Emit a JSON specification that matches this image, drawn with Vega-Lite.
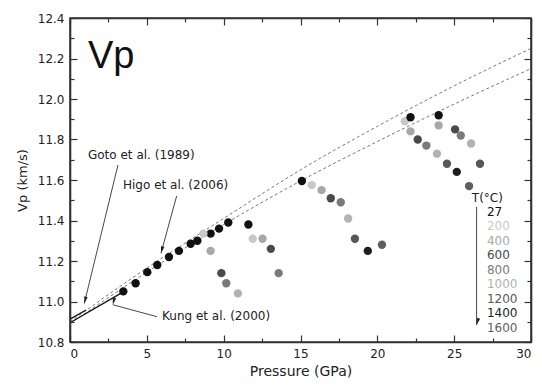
{
  "$schema": "https://vega.github.io/schema/vega-lite/v6.json",
  "width": 461,
  "height": 324,
  "autosize": "none",
  "padding": {"left": 70, "top": 18, "right": 11, "bottom": 47},
  "background": "white",
  "config": {
    "view": {"stroke": null},
    "font": "DejaVu Sans",
    "axis": {"domain": true, "zindex": 1, "domainColor": "#333333", "domainWidth": 1.6, "tickColor": "#333333", "tickWidth": 1.2, "labelColor": "#222", "labelFontSize": 12, "titleColor": "#222", "titleFontWeight": "normal", "grid": false}
  },
  "datasets": {
    "pts": [
      {"P": 3.47, "V": 11.05, "T": "27"},
      {"P": 4.27, "V": 11.09, "T": "27"},
      {"P": 5.03, "V": 11.145, "T": "27"},
      {"P": 5.68, "V": 11.18, "T": "27"},
      {"P": 6.44, "V": 11.22, "T": "27"},
      {"P": 7.09, "V": 11.25, "T": "27"},
      {"P": 7.85, "V": 11.285, "T": "27"},
      {"P": 8.29, "V": 11.3, "T": "27"},
      {"P": 9.15, "V": 11.335, "T": "27"},
      {"P": 9.7, "V": 11.36, "T": "27"},
      {"P": 10.3, "V": 11.39, "T": "27"},
      {"P": 8.68, "V": 11.335, "T": "200"},
      {"P": 9.15, "V": 11.25, "T": "400"},
      {"P": 9.85, "V": 11.14, "T": "600"},
      {"P": 10.17, "V": 11.09, "T": "800"},
      {"P": 10.93, "V": 11.04, "T": "1000"},
      {"P": 11.61, "V": 11.38, "T": "27"},
      {"P": 11.89, "V": 11.31, "T": "200"},
      {"P": 12.53, "V": 11.31, "T": "400"},
      {"P": 13.07, "V": 11.26, "T": "600"},
      {"P": 13.58, "V": 11.14, "T": "800"},
      {"P": 15.09, "V": 11.595, "T": "27"},
      {"P": 15.73, "V": 11.575, "T": "200"},
      {"P": 16.37, "V": 11.55, "T": "400"},
      {"P": 16.97, "V": 11.51, "T": "600"},
      {"P": 17.62, "V": 11.49, "T": "800"},
      {"P": 18.1, "V": 11.41, "T": "1000"},
      {"P": 18.54, "V": 11.31, "T": "1200"},
      {"P": 19.38, "V": 11.25, "T": "1400"},
      {"P": 20.3, "V": 11.28, "T": "1600"},
      {"P": 21.79, "V": 11.89, "T": "200"},
      {"P": 22.16, "V": 11.91, "T": "27"},
      {"P": 22.16, "V": 11.84, "T": "400"},
      {"P": 22.63, "V": 11.8, "T": "600"},
      {"P": 23.19, "V": 11.77, "T": "800"},
      {"P": 23.88, "V": 11.73, "T": "1000"},
      {"P": 24.53, "V": 11.68, "T": "1200"},
      {"P": 25.17, "V": 11.64, "T": "1400"},
      {"P": 25.97, "V": 11.57, "T": "1600"},
      {"P": 23.99, "V": 11.92, "T": "27"},
      {"P": 23.99, "V": 11.87, "T": "400"},
      {"P": 25.06, "V": 11.85, "T": "600"},
      {"P": 25.43, "V": 11.82, "T": "800"},
      {"P": 26.1, "V": 11.78, "T": "1000"},
      {"P": 26.68, "V": 11.68, "T": "1200"}
    ],
    "higo": [
      {"P": 0, "V": 10.9, "line": "upper"},
      {"P": 5, "V": 11.165, "line": "upper"},
      {"P": 10, "V": 11.41, "line": "upper"},
      {"P": 15, "V": 11.65, "line": "upper"},
      {"P": 20, "V": 11.865, "line": "upper"},
      {"P": 25, "V": 12.065, "line": "upper"},
      {"P": 30, "V": 12.25, "line": "upper"},
      {"P": 0, "V": 10.89, "line": "lower"},
      {"P": 5, "V": 11.145, "line": "lower"},
      {"P": 10, "V": 11.38, "line": "lower"},
      {"P": 15, "V": 11.595, "line": "lower"},
      {"P": 20, "V": 11.79, "line": "lower"},
      {"P": 25, "V": 11.975, "line": "lower"},
      {"P": 30, "V": 12.15, "line": "lower"}
    ],
    "solid": [
      {"P": 0, "V": 10.913, "src": "Goto"},
      {"P": 1.05, "V": 10.958, "src": "Goto"},
      {"P": 0, "V": 10.895, "src": "Kung"},
      {"P": 3.3, "V": 11.04, "src": "Kung"}
    ],
    "arrows": [
      {"name": "Goto", "P": 3.12, "V": 11.674, "P2": 0.93, "V2": 10.99},
      {"name": "Higo", "P": 6.94, "V": 11.521, "P2": 5.92, "V2": 11.238},
      {"name": "Kung", "P": 5.66, "V": 10.925, "P2": 2.78, "V2": 10.984},
      {"name": "T", "P": 26.46, "V": 11.468, "P2": 26.46, "V2": 10.884}
    ],
    "anno": [
      {"label": "Goto et al. (1989)", "P": 1.17, "V": 11.723},
      {"label": "Higo et al. (2006)", "P": 3.45, "V": 11.575},
      {"label": "Kung et al. (2000)", "P": 5.99, "V": 10.928},
      {"label": "T(°C)", "P": 26.15, "V": 11.511}
    ],
    "legend": [
      {"T": "27", "P": 27.13, "V": 11.443},
      {"T": "200", "P": 27.13, "V": 11.372},
      {"T": "400", "P": 27.13, "V": 11.298},
      {"T": "600", "P": 27.13, "V": 11.229},
      {"T": "800", "P": 27.13, "V": 11.157},
      {"T": "1000", "P": 27.13, "V": 11.088},
      {"T": "1200", "P": 27.13, "V": 11.014},
      {"T": "1400", "P": 27.13, "V": 10.945},
      {"T": "1600", "P": 27.13, "V": 10.871}
    ],
    "title": [
      {"label": "Vp", "P": 1.17, "V": 12.152}
    ],
    "frame": [
      {"P": 0, "P2": 30, "V": 10.8, "V2": 12.4}
    ]
  },
  "layer": [
    {
      "data": {"name": "higo"},
      "mark": {"type": "line", "strokeDash": [3, 2.5], "color": "#777", "strokeWidth": 1, "interpolate": "monotone"},
      "encoding": {
        "x": {"field": "P", "type": "quantitative", "scale": {"domain": [0, 30], "nice": false},
          "axis": {"orient": "bottom", "values": [0, 2.5, 5, 7.5, 10, 12.5, 15, 17.5, 20, 22.5, 25, 27.5, 30],
            "labelExpr": "datum.value % 5 === 0 ? format(datum.value, 'd') : ''",
            "tickSize": {"condition": {"test": "datum.value % 5 === 0", "value": -7}, "value": -4},
            "labelPadding": 13, "title": "Pressure (GPa)", "titleFontSize": 14, "titlePadding": 5}},
        "y": {"field": "V", "type": "quantitative", "scale": {"domain": [10.8, 12.4], "nice": false, "zero": false},
          "axis": {"orient": "left", "values": [10.8, 10.9, 11.0, 11.1, 11.2, 11.3, 11.4, 11.5, 11.6, 11.7, 11.8, 11.9, 12.0, 12.1, 12.2, 12.3, 12.4],
            "labelExpr": "round(datum.value * 10) % 2 === 0 ? format(datum.value, '.1f') : ''",
            "tickSize": {"condition": {"test": "round(datum.value * 10) % 2 === 0", "value": -7}, "value": -4},
            "labelPadding": 13, "title": "Vp (km/s)", "titleFontSize": 13, "titlePadding": 8}},
        "detail": {"field": "line", "type": "nominal"}
      }
    },
    {
      "data": {"name": "solid"},
      "mark": {"type": "line", "color": "#111", "strokeWidth": 1.3},
      "encoding": {
        "x": {"field": "P", "type": "quantitative",
          "axis": {"orient": "top", "values": [0, 2.5, 5, 7.5, 10, 12.5, 15, 17.5, 20, 22.5, 25, 27.5, 30], "labels": false, "title": null,
            "tickSize": {"condition": {"test": "datum.value % 5 === 0", "value": -7}, "value": -4}}},
        "y": {"field": "V", "type": "quantitative",
          "axis": {"orient": "right", "values": [10.8, 10.9, 11.0, 11.1, 11.2, 11.3, 11.4, 11.5, 11.6, 11.7, 11.8, 11.9, 12.0, 12.1, 12.2, 12.3, 12.4], "labels": false, "title": null,
            "tickSize": {"condition": {"test": "round(datum.value * 10) % 2 === 0", "value": -7}, "value": -4}}},
        "detail": {"field": "src", "type": "nominal"}
      }
    },
    {
      "data": {"name": "pts"},
      "mark": {"type": "circle", "size": 70, "opacity": 1},
      "encoding": {
        "x": {"field": "P", "type": "quantitative", "axis": null},
        "y": {"field": "V", "type": "quantitative", "axis": null},
        "color": {"field": "T", "type": "nominal", "legend": null,
          "scale": {"domain": ["27", "200", "400", "600", "800", "1000", "1200", "1400", "1600"],
            "range": ["#111111", "#c8c8c8", "#a8a8a8", "#4a4a4a", "#7a7a7a", "#b2b2b2", "#575757", "#1e1e1e", "#5e5e5e"]}}
      }
    },
    {
      "data": {"name": "arrows"},
      "mark": {"type": "rule", "color": "#333", "strokeWidth": 0.9},
      "encoding": {
        "x": {"field": "P", "type": "quantitative", "axis": null},
        "y": {"field": "V", "type": "quantitative", "axis": null},
        "x2": {"field": "P2"},
        "y2": {"field": "V2"}
      }
    },
    {
      "data": {"name": "arrows"},
      "mark": {"type": "point", "shape": "M0,0L-0.5,2L0.5,2Z", "filled": true, "color": "#222", "size": 49, "opacity": 1},
      "encoding": {
        "x": {"field": "P2", "type": "quantitative", "axis": null},
        "y": {"field": "V2", "type": "quantitative", "axis": null},
        "angle": {"field": "name", "type": "nominal", "scale": {"domain": ["Goto", "Higo", "Kung", "T"], "range": [193.8, 195.7, 285.2, 180]}, "legend": null}
      }
    },
    {
      "data": {"name": "anno"},
      "mark": {"type": "text", "align": "left", "baseline": "middle", "fontSize": 12, "color": "#222"},
      "encoding": {
        "x": {"field": "P", "type": "quantitative", "axis": null},
        "y": {"field": "V", "type": "quantitative", "axis": null},
        "text": {"field": "label"}
      }
    },
    {
      "data": {"name": "legend"},
      "mark": {"type": "text", "align": "left", "baseline": "middle", "fontSize": 12},
      "encoding": {
        "x": {"field": "P", "type": "quantitative", "axis": null},
        "y": {"field": "V", "type": "quantitative", "axis": null},
        "text": {"field": "T"},
        "color": {"field": "T", "type": "nominal", "legend": null,
          "scale": {"domain": ["27", "200", "400", "600", "800", "1000", "1200", "1400", "1600"],
            "range": ["#111111", "#c8c8c8", "#a8a8a8", "#4a4a4a", "#7a7a7a", "#b2b2b2", "#575757", "#1e1e1e", "#5e5e5e"]}}
      }
    },
    {
      "data": {"name": "title"},
      "mark": {"type": "text", "align": "left", "baseline": "alphabetic", "fontSize": 38, "font": "Liberation Sans", "color": "#111"},
      "encoding": {
        "x": {"field": "P", "type": "quantitative", "axis": null},
        "y": {"field": "V", "type": "quantitative", "axis": null},
        "text": {"field": "label"}
      }
    },
    {
      "data": {"name": "frame"},
      "mark": {"type": "rect", "filled": false, "stroke": "#333333", "strokeWidth": 1.6},
      "encoding": {
        "x": {"field": "P", "type": "quantitative", "axis": null},
        "x2": {"field": "P2"},
        "y": {"field": "V", "type": "quantitative", "axis": null},
        "y2": {"field": "V2"}
      }
    }
  ],
  "resolve": {"axis": {"x": "independent", "y": "independent"}}
}
